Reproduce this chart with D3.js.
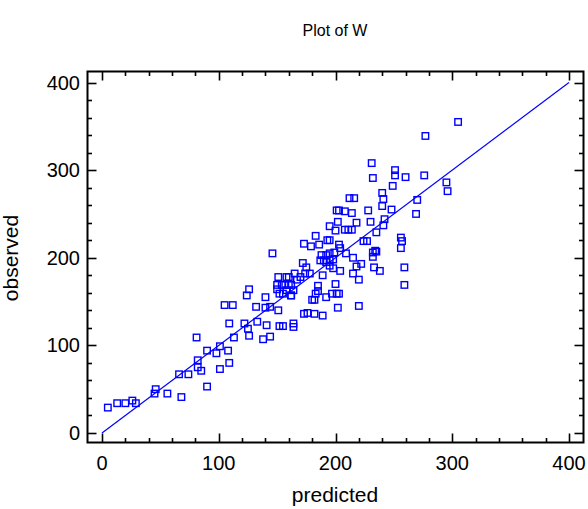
<!DOCTYPE html>
<html>
<head>
<meta charset="utf-8">
<script src="https://cdn.jsdelivr.net/npm/d3@7"></script>
<style>
body{margin:0;background:#fff;}
svg text{font-family:"Liberation Sans",Arial,sans-serif;fill:#000;}
</style>
</head>
<body>
<div id="plot"></div>
<script>
// observed vs predicted values
var predicted = [5,13,20,26,29,46,45,56,68,66,74,81,82,82,85,90,90,98,101,101,108,109,113,105,112,109,122,125,126,124,
	126,132,133,140,140,144,141,138,144,146,151,150,150,151,152,152,155,154,157,160,158,160,165,170,174,178,155,162,164,164,
	180,182,173,176,182,189,158,162,167,162,164,172,175,173,179,186,183,193,195,200,208,211,214,195,202,218,230,235,201,203,
	208,214,228,212,216,231,232,251,251,260,276,249,295,296,240,241,240,248,270,269,242,241,256,257,256,277,305,203,204,224,
	227,235,188,192,195,199,209,187,190,192,195,198,215,222,195,198,204,218,215,220,189,185,200,183,197,201,203,192,202,220,
	259,259,232,234,232,233,238,185];
var observed = [29,34,34,37,34,50,45,45,41,67,67,109,83,75,71,94,53,91,99,73,94,80,109,146,146,125,125,119,111,157,
	164,144,127,155,143,144,123,107,110,205,178,169,164,140,122,159,122,169,169,169,178,178,182,178,182,182,159,157,125,121,
	152,152,136,137,136,134,163,157,175,169,163,194,189,216,213,215,225,220,220,231,232,232,232,236,241,240,241,229,254,254,
	253,251,254,268,268,308,291,300,294,292,294,282,286,276,274,267,259,255,266,250,244,237,223,219,211,339,355,215,211,219,
	219,207,203,203,205,206,205,197,197,195,197,198,200,193,191,188,185,190,182,175,180,168,170,159,159,159,159,155,143,145,
	189,169,206,208,201,189,185,162];
var X_TICKS = [0,100,200,300,400],
	Y_TICKS = [0,100,200,300,400];
var TITLE = 'Plot of W', X_LABEL = 'predicted', Y_LABEL = 'observed';

var W = 588, H = 509;
var frame = {l:87.5, t:71.5, r:583.5, b:442.5};

var svg = d3.select('#plot').append('svg')
	.attr('width',W).attr('height',H);

var scaleX = d3.scaleLinear().domain([0,400]).range([102,569]),
	scaleY = d3.scaleLinear().domain([0,400]).range([433,82.5]);

// fit line y = x
var fitLine = d3.line()
	.x(function(d){return scaleX(d)})
	.y(function(d){return scaleY(d)});
svg.append('path')
	.datum([0,400])
	.attr('d',fitLine)
	.attr('fill','none')
	.attr('stroke','#0000ff')
	.attr('stroke-width',1.2);

// points as open squares
var S = 6.5;
svg.selectAll('.pt')
	.data(d3.range(predicted.length))
	.enter()
	.append('rect').attr('class','pt')
	.attr('x',function(i){return scaleX(predicted[i]) - S/2})
	.attr('y',function(i){return scaleY(observed[i]) - S/2})
	.attr('width',S).attr('height',S)
	.attr('fill','none')
	.attr('stroke','#0000ff')
	.attr('stroke-width',1.4);

// frame
svg.append('rect')
	.attr('x',frame.l).attr('y',frame.t)
	.attr('width',frame.r-frame.l).attr('height',frame.b-frame.t)
	.attr('fill','none').attr('stroke','#000').attr('stroke-width',2);

// ticks on all four sides, pointing inward
var minorX = d3.range(0,401,20), minorY = d3.range(0,401,20);
var tickG = svg.append('g').attr('stroke','#000').attr('stroke-width',1.6);
minorX.forEach(function(v){
	var len = v%100===0 ? 9 : 4.5, x = Math.round(scaleX(v))+0.5;
	tickG.append('line').attr('x1',x).attr('x2',x).attr('y1',frame.b).attr('y2',frame.b-len);
	tickG.append('line').attr('x1',x).attr('x2',x).attr('y1',frame.t).attr('y2',frame.t+len);
});
minorY.forEach(function(v){
	var len = v%100===0 ? 9 : 4.5, y = Math.round(scaleY(v))+0.5;
	tickG.append('line').attr('y1',y).attr('y2',y).attr('x1',frame.l).attr('x2',frame.l+len);
	tickG.append('line').attr('y1',y).attr('y2',y).attr('x1',frame.r).attr('x2',frame.r-len);
});

// tick labels
svg.selectAll('.xlab').data(X_TICKS).enter()
	.append('text').attr('class','xlab')
	.attr('x',function(d){return scaleX(d)})
	.attr('y',470)
	.attr('text-anchor','middle')
	.style('font-size','20px')
	.text(function(d){return d});
svg.selectAll('.ylab').data(Y_TICKS).enter()
	.append('text').attr('class','ylab')
	.attr('x',80)
	.attr('y',function(d){return scaleY(d)+7})
	.attr('text-anchor','end')
	.style('font-size','20px')
	.text(function(d){return d});

// titles
svg.append('text').attr('x',335).attr('y',36)
	.attr('text-anchor','middle').style('font-size','16px').text(TITLE);
svg.append('text').attr('x',335).attr('y',502)
	.attr('text-anchor','middle').style('font-size','21px').text(X_LABEL);
svg.append('text')
	.attr('transform','translate(18,258) rotate(-90)')
	.attr('text-anchor','middle').style('font-size','21px').text(Y_LABEL);
</script>
</body>
</html>
